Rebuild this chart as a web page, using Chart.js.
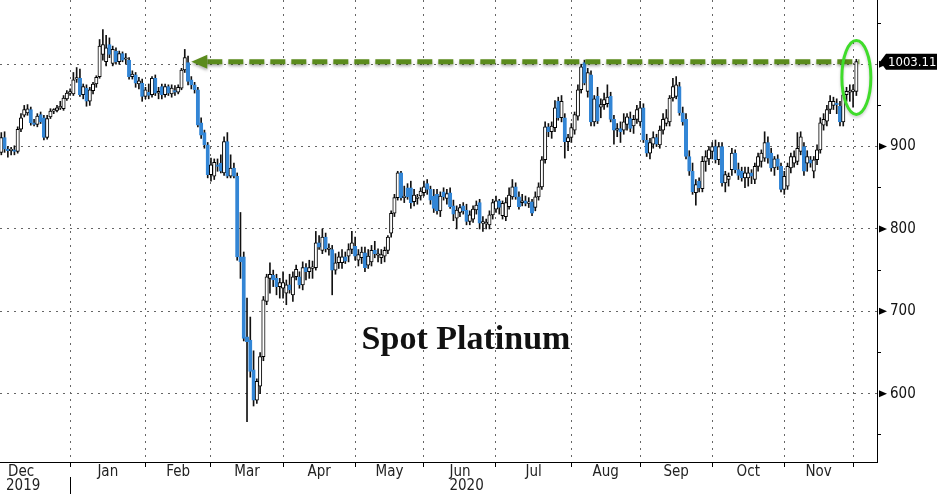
<!DOCTYPE html>
<html>
<head>
<meta charset="utf-8">
<script src="https://cdn.jsdelivr.net/npm/chart.js@4.4.1/dist/chart.umd.min.js"></script>
<style>
  html, body { margin: 0; padding: 0; background: #fff; }
  #wrap { width: 937px; height: 496px; }
</style>
</head>
<body>
<div id="wrap"><canvas id="chart" width="937" height="496"></canvas></div>
<script>
// Spot platinum, daily candles, one entry per weekday from Mon 2 Dec 2019
const openP = [
  900,893,911,897,895,896,894,921,938,941,945,929,927,939,935,911,936,943,944,947,946,958,
  965,964,982,983,963,971,955,968,976,985,1012,1003,1024,1001,1016,1003,1013,1006,1005,985,987,976,977,
  961,966,963,983,965,973,963,973,964,968,966,971,993,1002,981,975,969,929,917,902,
  866,864,878,880,868,906,864,874,864,766,766,669,665,629,592,609,645,712,740,744,740,730,
  728,722,732,720,742,742,732,753,748,752,753,783,774,790,775,775,750,759,759,766,767,775,
  779,762,765,771,756,760,774,768,765,767,774,795,819,838,868,838,850,850,833,837,840,
  844,855,848,840,842,822,845,837,844,828,813,820,828,823,809,812,823,832,807,806,805,817,
  824,834,816,815,827,839,851,839,832,834,831,833,826,839,851,884,924,918,923,955,935,935,906,
  911,920,937,969,1002,967,987,930,961,948,951,952,961,933,920,922,920,927,934,925,933,
  930,947,908,892,903,911,902,920,928,930,959,961,973,941,933,888,870,844,858,849,882,885,
  894,900,884,900,856,860,872,892,872,870,862,862,868,860,876,882,886,905,892,874,885,876,
  848,852,874,880,882,894,900,880,884,870,884,896,926,931,945,950,952,949,930,963,966,
  967,967
];
const highP = [
  905,917,918,900,899,901,924,940,950,951,948,933,940,942,938,938,946,946,950,955,962,968,
  970,990,996,994,976,975,972,978,986,1030,1042,1035,1032,1022,1020,1016,1015,1013,1008,992,990,984,982,
  972,976,985,987,972,976,976,975,975,974,975,995,1018,1010,985,978,972,935,920,905,
  886,885,885,890,912,917,890,880,868,820,772,716,693,652,618,650,718,745,759,750,745,740,
  748,738,745,748,756,748,760,758,762,761,797,792,800,795,782,780,770,772,775,772,782,797,
  790,775,778,778,775,780,785,776,775,778,792,822,842,870,870,852,855,858,848,842,850,
  858,860,852,848,848,845,850,848,850,835,828,830,832,830,822,828,834,836,815,812,822,836,
  840,836,834,838,850,860,856,845,842,840,838,836,845,856,888,930,928,930,956,960,962,940,915,
  928,942,975,1000,1005,995,992,962,972,958,965,975,966,938,928,930,940,940,942,938,950,
  955,952,915,910,918,915,925,940,945,962,983,985,978,948,940,895,880,860,862,888,895,900,
  905,908,905,905,870,868,898,896,880,875,875,875,872,880,892,896,918,912,898,888,890,880,
  870,880,892,895,917,918,905,895,888,888,902,935,940,950,962,960,958,955,968,972,975,
  975,1006
];
const lowP = [
  888,890,893,887,890,890,892,918,936,938,926,925,924,928,908,909,934,940,942,945,944,956,
  962,962,978,961,958,949,950,964,972,983,1005,998,1008,998,1000,1000,1003,1000,982,982,972,970,955,
  958,958,960,962,958,958,960,962,960,962,964,969,990,975,970,965,924,910,898,862,
  858,860,870,868,865,862,862,862,762,740,664,566,620,585,588,600,640,708,722,730,720,716,
  716,708,722,712,738,728,726,738,740,740,750,775,770,772,768,720,745,752,752,758,760,770,
  762,755,758,748,752,755,765,760,758,760,770,790,815,835,835,832,836,825,828,830,835,
  840,842,830,820,818,815,835,830,825,810,800,815,818,805,805,808,818,800,797,800,800,812,
  820,818,812,810,824,836,836,824,828,828,826,816,822,835,848,880,912,910,918,932,930,886,895,
  905,915,932,965,975,960,925,925,928,935,945,948,930,903,912,905,915,920,918,916,928,
  925,905,888,885,898,900,898,915,925,925,955,958,938,926,885,865,842,829,845,845,870,878,
  885,880,878,852,845,852,865,868,860,858,850,852,855,855,870,875,882,880,870,865,872,845,
  842,848,868,875,878,890,865,870,875,862,878,892,920,925,940,945,940,925,925,955,955,
  948,962
];
const closeP = [
  893,911,897,895,897,894,921,935,945,946,929,927,937,930,911,934,943,944,947,948,959,965,
  966,981,983,963,973,955,969,976,984,1022,1024,1020,1012,1018,1003,1013,1005,1006,985,988,977,980,961,
  969,962,983,965,967,963,973,965,971,966,972,993,1008,979,975,969,926,914,902,866,
  878,881,876,870,906,864,874,864,766,760,667,663,627,592,615,645,714,742,745,738,730,735,
  735,732,726,742,751,732,753,748,753,754,783,778,790,776,776,750,759,766,766,761,775,783,
  767,769,772,753,767,774,770,768,769,774,790,819,838,868,838,840,839,832,841,838,846,
  851,848,835,825,822,840,839,843,827,818,823,826,822,809,817,824,829,807,808,808,817,832,
  834,826,831,832,841,851,839,827,834,831,833,819,839,851,884,924,918,925,947,935,955,906,911,
  923,939,969,997,977,990,930,958,931,951,957,960,933,920,922,918,930,936,922,933,945,
  947,908,892,905,911,903,920,933,935,959,973,975,941,930,888,870,845,854,850,882,888,896,
  900,884,900,856,866,864,892,872,865,862,868,868,864,876,888,892,905,886,874,885,876,848,
  864,876,888,888,898,912,870,888,880,884,896,929,933,945,955,955,951,930,963,967,967,
  969,1003.11
];

const months = ['Dec', 'Jan', 'Feb', 'Mar', 'Apr', 'May', 'Jun', 'Jul', 'Aug', 'Sep', 'Oct', 'Nov'];
const monthStart = [0, 22, 45, 65, 87, 109, 130, 152, 175, 196, 218, 240, 261];
const years = ['2019', '2020'];
const yTicks = [550, 600, 650, 700, 750, 800, 850, 900, 950, 1000, 1050];
const lastPrice = 1003.11;
const feb20Index = 59; // where the green arrow points back to

const BLUE = '#3386d6';
const GREEN = '#5b8b1d';
const axisFont = "'Liberation Sans Narrow', 'DejaVu Sans Condensed', 'Liberation Sans', sans-serif";

const isUp = i => closeP[i] >= openP[i];
const bodies = closeP.map((c, i) => ({ x: i, y: [openP[i], c] }));
const wicks = highP.map((h, i) => ({ x: i, y: [lowP[i], h] }));

// extra drawing: axis markers, month labels, price tag, green arrow and circle
const overlay = {
  id: 'overlay',
  afterDatasetsDraw(chart) {
    const ctx = chart.ctx;
    const xs = chart.scales.x, ys = chart.scales.y;
    const last = closeP.length - 1;
    const y = ys.getPixelForValue(lastPrice);
    const xTip = xs.getPixelForValue(feb20Index);
    const xEnd = xs.getPixelForValue(last) + 3;

    ctx.save();
    ctx.shadowColor = 'rgba(0,0,0,0.3)';
    ctx.shadowBlur = 3;
    ctx.shadowOffsetY = 2;
    ctx.strokeStyle = GREEN;
    ctx.lineWidth = 5;
    ctx.setLineDash([15, 6]);
    ctx.beginPath();
    ctx.moveTo(xTip + 16, y);
    ctx.lineTo(xEnd, y);
    ctx.stroke();
    ctx.setLineDash([]);
    ctx.fillStyle = GREEN;
    ctx.beginPath();
    ctx.moveTo(xTip, y);
    ctx.lineTo(xTip + 16, y - 7);
    ctx.lineTo(xTip + 16, y + 7);
    ctx.closePath();
    ctx.fill();

    // circle round the last candle
    ctx.shadowColor = 'rgba(0,0,0,0.2)';
    ctx.strokeStyle = '#3fdc2a';
    ctx.lineWidth = 3;
    ctx.beginPath();
    ctx.ellipse(xs.getPixelForValue(last), ys.getPixelForValue((highP[last] + lowP[last]) / 2),
      14.5, 37, 0, 0, Math.PI * 2);
    ctx.stroke();
    ctx.restore();

    // title inside the plot
    ctx.save();
    ctx.font = "bold 34px 'Liberation Serif', 'DejaVu Serif', serif";
    ctx.fillStyle = '#111';
    ctx.textAlign = 'center';
    ctx.textBaseline = 'middle';
    ctx.fillText('Spot Platinum', 466, 340);
    ctx.restore();
  },
  afterDraw(chart) {
    const ctx = chart.ctx;
    const xs = chart.scales.x, ys = chart.scales.y;
    const area = chart.chartArea;

    ctx.save();
    // triangles on the hundreds
    ctx.fillStyle = '#000';
    yTicks.filter(v => v % 100 === 0).forEach(v => {
      const py = ys.getPixelForValue(v);
      ctx.beginPath();
      ctx.moveTo(area.right + 2, py - 3.5);
      ctx.lineTo(area.right + 10, py);
      ctx.lineTo(area.right + 2, py + 3.5);
      ctx.closePath();
      ctx.fill();
    });

    // last price tag
    const py = ys.getPixelForValue(lastPrice);
    ctx.fillStyle = '#000';
    ctx.beginPath();
    ctx.moveTo(area.right + 3, py);
    ctx.lineTo(area.right + 9, py - 8);
    ctx.lineTo(chart.width, py - 8);
    ctx.lineTo(chart.width, py + 8);
    ctx.lineTo(area.right + 9, py + 8);
    ctx.closePath();
    ctx.fill();
    ctx.fillStyle = '#fff';
    ctx.font = '13px ' + axisFont;
    ctx.textBaseline = 'middle';
    ctx.textAlign = 'left';
    ctx.fillText(lastPrice.toFixed(2), area.right + 11, py + 1);

    // month labels, centred in each month
    ctx.fillStyle = '#222';
    ctx.font = '15px ' + axisFont;
    const by = area.bottom;
    months.forEach((m, i) => {
      if (i === 0) {
        ctx.textAlign = 'left';
        ctx.fillText(m, area.left + 8, by + 10);
        ctx.fillText(years[0], area.left + 6, by + 24);
        return;
      }
      const a = xs.getPixelForValue(monthStart[i]);
      const b = xs.getPixelForValue(monthStart[i + 1]);
      ctx.textAlign = 'center';
      ctx.fillText(m, (a + b) / 2, by + 10);
    });
    const ya = xs.getPixelForValue(monthStart[1]);
    const yb = xs.getPixelForValue(monthStart[monthStart.length - 1]);
    ctx.textAlign = 'center';
    ctx.fillText(years[1], (ya + yb) / 2 + 5, by + 24);

    // year separator
    ctx.strokeStyle = '#000';
    ctx.lineWidth = 1;
    ctx.beginPath();
    ctx.moveTo(Math.round(ya) + 0.5, by + 15);
    ctx.lineTo(Math.round(ya) + 0.5, by + 32);
    ctx.stroke();
    ctx.restore();
  }
};

new Chart(document.getElementById('chart'), {
  type: 'bar',
  data: {
    datasets: [
      {
        data: bodies,
        order: 0,
        grouped: false,
        barThickness: 3.4,
        minBarLength: 1.5,
        borderWidth: 1,
        borderSkipped: false,
        backgroundColor: c => isUp(c.dataIndex) ? '#fff' : BLUE,
        borderColor: c => isUp(c.dataIndex) ? '#000' : BLUE
      },
      {
        data: wicks,
        order: 1,
        grouped: false,
        barThickness: 1,
        borderWidth: 0,
        backgroundColor: '#111'
      }
    ]
  },
  options: {
    responsive: false,
    animation: false,
    devicePixelRatio: 1,
    layout: { padding: 0 },
    plugins: { legend: { display: false }, tooltip: { enabled: false } },
    scales: {
      x: {
        type: 'linear',
        min: 0.6,
        max: 268.3,
        offset: false,
        afterBuildTicks: s => { s.ticks = monthStart.slice(1).map(v => ({ value: v })); },
        afterFit: s => { s.height = 34; s.paddingLeft = 0; s.paddingRight = 0; },
        grid: { offset: false, color: '#666', lineWidth: 1, drawTicks: true, tickLength: 5,
                tickColor: '#000', tickBorderDash: [] },
        border: { display: true, color: '#000', width: 1, dash: [2, 5] },
        ticks: { display: false }
      },
      y: {
        position: 'right',
        min: 517,
        max: 1078,
        afterBuildTicks: s => { s.ticks = yTicks.map(v => ({ value: v })); },
        afterFit: s => { s.width = 60; s.paddingTop = 0; s.paddingBottom = 0; },
        grid: {
          color: c => c.tick && c.tick.value % 100 === 0 ? '#666' : 'rgba(0,0,0,0)',
          lineWidth: 1,
          drawTicks: true,
          tickLength: 4,
          tickColor: c => c.tick && c.tick.value % 100 === 0 ? 'rgba(0,0,0,0)' : '#000',
          tickBorderDash: []
        },
        border: { display: true, color: '#000', width: 1, dash: [2, 5] },
        ticks: {
          padding: 9,
          color: '#111',
          font: { family: axisFont, size: 15 },
          callback: v => (v % 100 === 0 && v !== 1000) ? String(v) : ''
        }
      }
    }
  },
  plugins: [overlay]
});
</script>
</body>
</html>
